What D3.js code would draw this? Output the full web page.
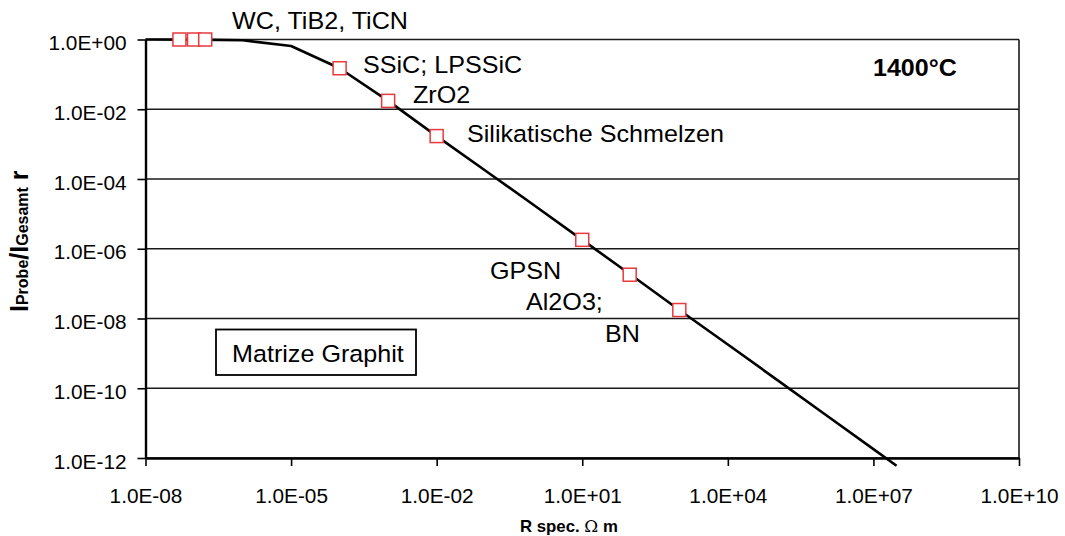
<!DOCTYPE html>
<html>
<head>
<meta charset="utf-8">
<script src="https://cdn.jsdelivr.net/npm/d3@7"></script>
<style>
  body { margin: 0; background: #fff; }
  svg { display: block; font-family: "Liberation Sans", Arial, sans-serif; }
</style>
</head>
<body>
<svg id="chart" width="1065" height="536"></svg>
<script>
// ---- data ----
const curveR = [1e-8, 1e-7, 1e-6, 1e-5, 1e-4, 1e-3, 1e-2, 1e-1, 1e0, 1e1, 1e2, 1e3, 1e4, 1e5, 1e6, 1e7, 3e7];
const curveI = [1, 0.99, 0.95, 0.65, 0.15, 0.0174, 1.7e-3, 1.75e-4, 1.8e-5, 1.8e-6, 1.8e-7, 1.75e-8, 1.8e-9, 1.8e-10, 1.8e-11, 1.8e-12, 6e-13];
const markerR = [5e-8, 1e-7, 1.7e-7, 1e-4, 1e-3, 1e-2, 10, 95, 1000];
const markerI = [1, 1, 1, 0.15, 0.0174, 1.7e-3, 1.8e-6, 1.8e-7, 1.75e-8];
const xTicks = [1e-8, 1e-5, 1e-2, 1e1, 1e4, 1e7, 1e10];
const yTicks = [1, 1e-2, 1e-4, 1e-6, 1e-8, 1e-10, 1e-12];
const labelTexts = ["WC, TiB2, TiCN", "SSiC; LPSSiC", "ZrO2", "Silikatische Schmelzen", "GPSN", "Al2O3;", "BN"];
const legendText = "Matrize Graphit";
const tempText = "1400°C";

// ---- layout ----
const L = 145.5, R = 1019, T = 39.5, B = 458;
const svg = d3.select("#chart");
const x = d3.scaleLog().domain([1e-8, 1e10]).range([L, R]);
const y = d3.scaleLog().domain([1e-12, 1]).range([B, T]);

const fmtE = v => {
  const e = Math.round(Math.log10(v));
  return "1.0E" + (e < 0 ? "-" : "+") + String(Math.abs(e)).padStart(2, "0");
};

// gridlines
svg.append("g").selectAll("line").data(yTicks).join("line")
  .attr("x1", L).attr("x2", R)
  .attr("y1", d => y(d)).attr("y2", d => y(d))
  .attr("stroke", "#1a1a1a").attr("stroke-width", 1.4);

// right border
svg.append("line").attr("x1", R).attr("x2", R).attr("y1", T).attr("y2", B)
  .attr("stroke", "#1a1a1a").attr("stroke-width", 1.6);

// curve
const pts = curveR.map((r, i) => [r, curveI[i]]);
svg.append("path").datum(pts)
  .attr("fill", "none").attr("stroke", "#000").attr("stroke-width", 2.6)
  .attr("stroke-linejoin", "round")
  .attr("d", d3.line().x(d => x(d[0])).y(d => y(d[1])));

// axes
const yAxis = svg.append("g").attr("transform", `translate(${L},0)`)
  .call(d3.axisLeft(y).tickValues(yTicks).tickFormat(fmtE).tickSize(8).tickSizeOuter(0).tickPadding(11.5));
const xAxis = svg.append("g").attr("transform", `translate(0,${B})`)
  .call(d3.axisBottom(x).tickValues(xTicks).tickFormat(fmtE).tickSize(8).tickSizeOuter(0).tickPadding(22.5));
[yAxis, xAxis].forEach(a => {
  a.select(".domain").attr("stroke", "#000").attr("stroke-width", 2.4);
  a.selectAll(".tick line").attr("stroke", "#000").attr("stroke-width", 1.6);
  a.selectAll(".tick text").attr("fill", "#000").style("font-size", "20px")
    .style("font-family", '"Liberation Sans", Arial, sans-serif');
});
yAxis.selectAll(".tick text").attr("dy", "0.5em").attr("x", -19).attr("transform", "translate(-19.5,0) scale(1.04,1) translate(19.5,0)");
xAxis.selectAll(".tick text").attr("transform", "scale(1.04,1)");

// markers
const ms = 13;
svg.append("g").selectAll("rect").data(markerR.map((r, i) => [r, markerI[i]])).join("rect")
  .attr("x", d => x(d[0]) - ms / 2).attr("y", d => y(d[1]) - ms / 2)
  .attr("width", ms).attr("height", ms)
  .attr("fill", "#fff").attr("stroke", "#e8393d").attr("stroke-width", 1.5);

// annotation labels
const sx = 1.07;
const labelPos = [[232, 29], [363, 73], [413, 103], [467, 142], [490, 279], [526, 310], [605, 342]];
svg.append("g").selectAll("text").data(labelTexts).join("text")
  .attr("transform", (d, i) => `translate(${labelPos[i][0]},${labelPos[i][1]}) scale(${sx},1)`)
  .style("font-size", "23.5px").attr("fill", "#000").text(d => d);

// legend box
svg.append("rect").attr("x", 216).attr("y", 329.5).attr("width", 200).attr("height", 45.5)
  .attr("fill", "#fff").attr("stroke", "#000").attr("stroke-width", 1.8);
svg.append("text").attr("transform", `translate(232,362) scale(${sx},1)`)
  .style("font-size", "23.5px").text(legendText);

// temperature
svg.append("text").attr("transform", "translate(873,76) scale(1.09,1)").style("font-size", "23px")
  .style("font-weight", "bold").text(tempText);

// y axis title
const yt = svg.append("text").attr("transform", "translate(28,312) rotate(-90)")
  .style("font-weight", "bold").attr("fill", "#000");
yt.append("tspan").style("font-size", "25px").text("I");
yt.append("tspan").style("font-size", "16px").text("Probe");
yt.append("tspan").style("font-size", "25px").text("/I");
yt.append("tspan").style("font-size", "16px").text("Gesamt");
yt.append("tspan").style("font-size", "25px").text(" r");

// x axis title
const xt = svg.append("text").attr("transform", "translate(520,532) scale(1.05,1)").attr("fill", "#000");
xt.append("tspan").style("font-size", "16px").style("font-weight", "bold").text("R spec. ");
xt.append("tspan").style("font-size", "16px").style("font-family", '"DejaVu Serif", serif').text("Ω");
xt.append("tspan").style("font-size", "16px").style("font-weight", "bold").text(" m");
</script>
</body>
</html>
